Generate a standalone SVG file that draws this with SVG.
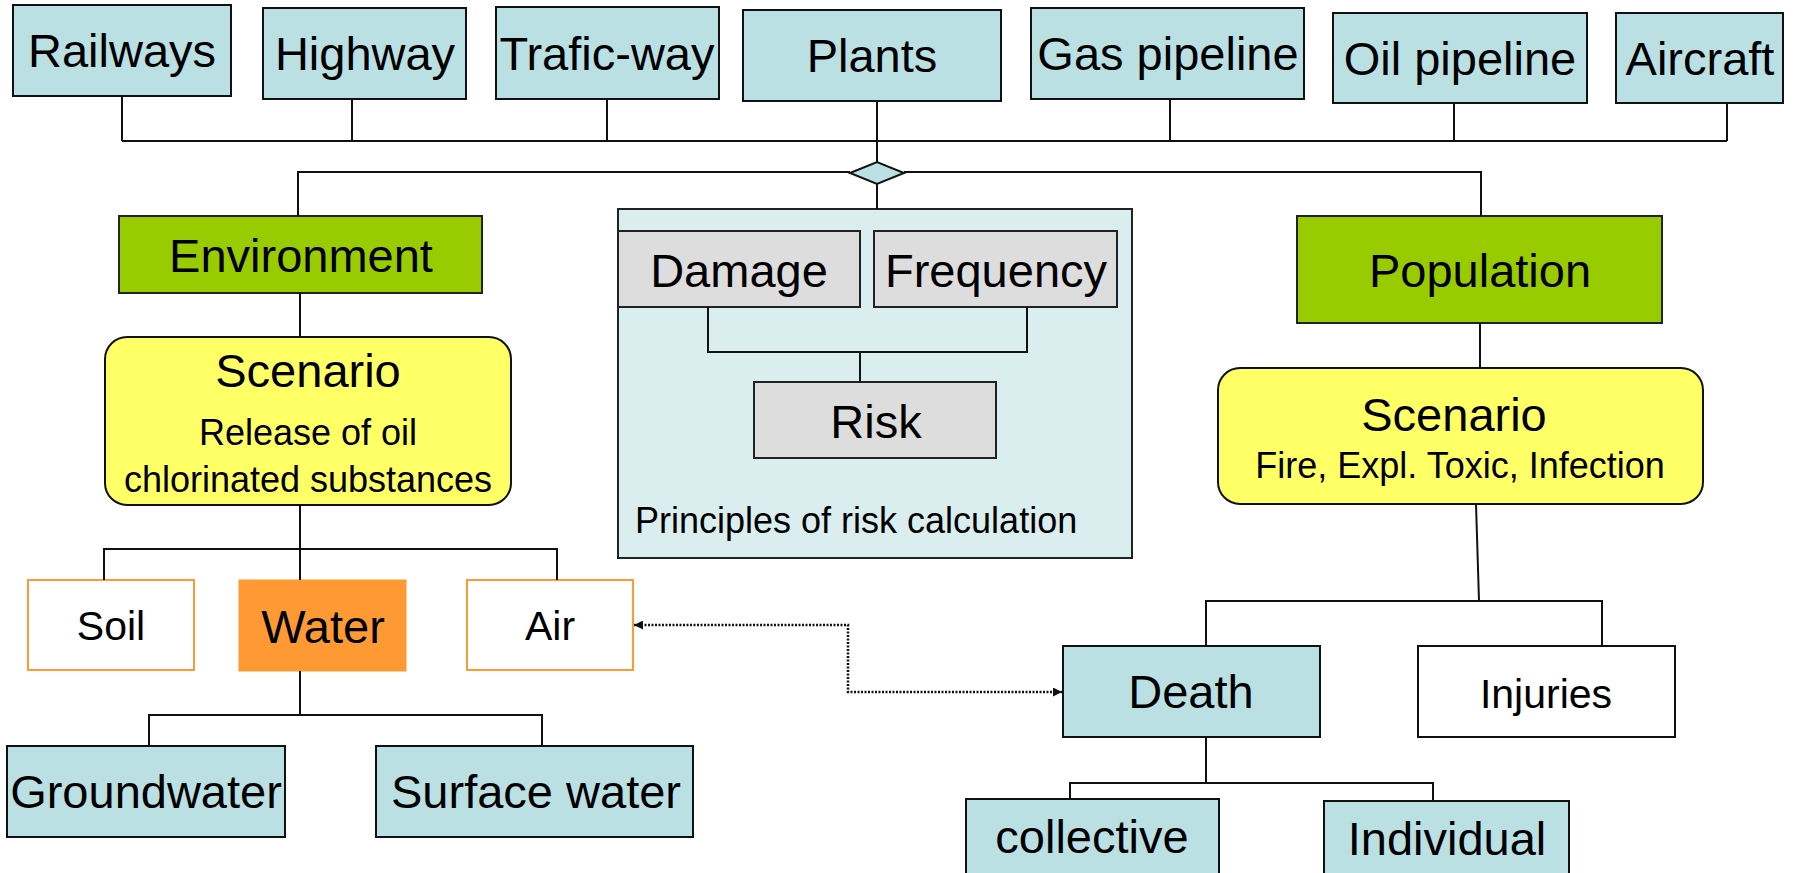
<svg xmlns="http://www.w3.org/2000/svg" width="1798" height="873" viewBox="0 0 1798 873">
<defs>
<style>
text{font-family:"Liberation Sans",Arial,sans-serif;fill:#000;text-anchor:middle}
.big{font-size:47px}
.mid{font-size:41px}
.small{font-size:36px}
.cyan{fill:#BBE0E3;stroke:#111;stroke-width:2}
.green{fill:#99CC00;stroke:#222;stroke-width:2}
.yellow{fill:#FFFF66;stroke:#111;stroke-width:2}
.gray{fill:#DDDDDD;stroke:#222;stroke-width:2}
.panel{fill:#DAEDEF;stroke:#222;stroke-width:2}
.ow{fill:#FFFFFF;stroke:#FF9933;stroke-width:2}
.orange{fill:#FF9933;stroke:#FF9933;stroke-width:1}
.white{fill:#FFFFFF;stroke:#111;stroke-width:2}
.ln{fill:none;stroke:#111;stroke-width:2}
.dot{fill:none;stroke:#111;stroke-width:2.5;stroke-dasharray:2 1.5}
</style>
<marker id="ah" viewBox="0 0 10 10" refX="10" refY="5" markerWidth="9" markerHeight="9" markerUnits="userSpaceOnUse" orient="auto-start-reverse">
<path d="M0,0 L10,5 L0,10 Z" fill="#111"/>
</marker>
</defs>
<rect width="1798" height="873" fill="#FFFFFF"/>
<g id="railways"><rect class="cyan" x="13" y="5" width="218" height="91"/><text class="big" x="122" y="67">Railways</text></g>
<g id="highway"><rect class="cyan" x="263" y="8" width="203" height="91"/><text class="big" x="365" y="70">Highway</text></g>
<g id="trafic-way"><rect class="cyan" x="496" y="7" width="223" height="92"/><text class="big" x="607" y="70">Trafic-way</text></g>
<g id="plants"><rect class="cyan" x="743" y="10" width="258" height="91"/><text class="big" x="872" y="72">Plants</text></g>
<g id="gas-pipeline"><rect class="cyan" x="1031" y="8" width="273" height="91"/><text class="big" x="1168" y="70">Gas pipeline</text></g>
<g id="oil-pipeline"><rect class="cyan" x="1333" y="13" width="254" height="90"/><text class="big" x="1460" y="75">Oil pipeline</text></g>
<g id="aircraft"><rect class="cyan" x="1616" y="13" width="167" height="90"/><text class="big" x="1700" y="75">Aircraft</text></g>
<g id="environment"><rect class="green" x="119" y="216" width="363" height="77"/><text class="big" x="301" y="272">Environment</text></g>
<g id="scenario-env"><rect class="yellow" x="105" y="337" width="406" height="168" rx="22"/><text class="big" x="308" y="387">Scenario</text><text class="small" x="308" y="445">Release of oil</text><text class="small" x="308" y="492">chlorinated substances</text></g>
<g id="soil"><rect class="ow" x="28" y="580" width="166" height="90"/><text class="mid" x="111" y="640">Soil</text></g>
<g id="water"><rect class="orange" x="239" y="580" width="167" height="91"/><text class="big" x="323" y="643">Water</text></g>
<g id="air"><rect class="ow" x="467" y="580" width="166" height="90"/><text class="mid" x="550" y="640">Air</text></g>
<g id="groundwater"><rect class="cyan" x="7" y="746" width="278" height="91"/><text class="big" x="146" y="808">Groundwater</text></g>
<g id="surface-water"><rect class="cyan" x="376" y="746" width="317" height="91"/><text class="big" x="536" y="808">Surface water</text></g>
<g id="principles"><rect class="panel" x="618" y="209" width="514" height="349"/><text class="small" x="635" y="533" style="text-anchor:start">Principles of risk calculation</text></g>
<g id="damage"><rect class="gray" x="618" y="231" width="242" height="76"/><text class="big" x="739" y="287">Damage</text></g>
<g id="frequency"><rect class="gray" x="874" y="231" width="243" height="76"/><text class="big" x="996" y="287">Frequency</text></g>
<g id="risk"><rect class="gray" x="754" y="382" width="242" height="76"/><text class="big" x="876" y="438">Risk</text></g>
<g id="population"><rect class="green" x="1297" y="216" width="365" height="107"/><text class="big" x="1480" y="287">Population</text></g>
<g id="scenario-pop"><rect class="yellow" x="1218" y="368" width="485" height="136" rx="22"/><text class="big" x="1454" y="431">Scenario</text><text class="small" x="1460" y="478">Fire, Expl. Toxic, Infection</text></g>
<g id="death"><rect class="cyan" x="1063" y="646" width="257" height="91"/><text class="big" x="1191" y="708">Death</text></g>
<g id="injuries"><rect class="white" x="1418" y="646" width="257" height="91"/><text class="mid" x="1546" y="708">Injuries</text></g>
<g id="collective"><rect class="cyan" x="966" y="799" width="253" height="80"/><text class="big" x="1092" y="853">collective</text></g>
<g id="individual"><rect class="cyan" x="1324" y="801" width="245" height="80"/><text class="big" x="1447" y="855">Individual</text></g>
<g id="connectors">
<path class="ln" d="M122,96 V141 M352,99 V141 M607,99 V141 M877,101 V162 M1170,99 V141 M1454,103 V141 M1727,103 V141 M122,141 H1727"/>
<path class="ln" d="M298,216 V172 H850 M904,172 H1481 V216 M877,184 V209"/>
<path class="ln" d="M708,307 V352 H1027 V307 M860,352 V382"/>
<path class="ln" d="M300,293 V337 M300,505 V580 M104,580 V549 H557 V580"/>
<path class="ln" d="M300,671 V715 M149,746 V715 H542 V746"/>
<path class="ln" d="M1480,323 V368 M1476,504 L1479,601 M1206,646 V601 H1602 V646"/>
<path class="ln" d="M1206,737 V783 M1070,799 V783 H1433 V801"/>
<path class="dot" d="M634,625 H848 V692 H1062" marker-start="url(#ah)" marker-end="url(#ah)"/>
</g>
<g id="junction"><path d="M850,173 L877,162 L904,173 L877,184 Z" fill="#BBE0E3" stroke="#111" stroke-width="2"/></g>
</svg>
